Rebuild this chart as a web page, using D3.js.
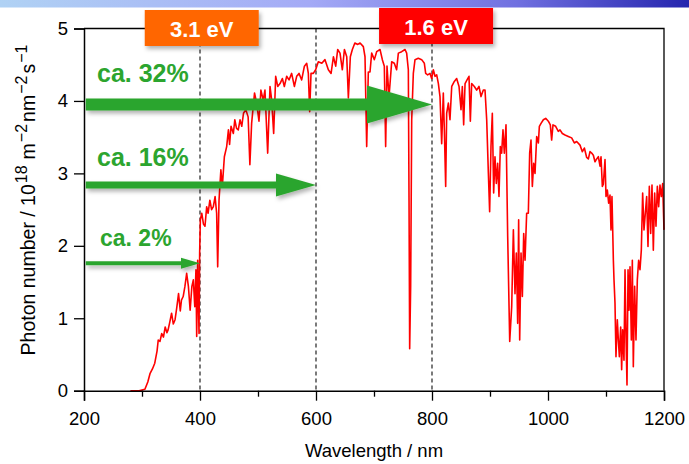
<!DOCTYPE html>
<html><head><meta charset="utf-8">
<script src="https://cdn.jsdelivr.net/npm/d3@7"></script>
<style>body{margin:0;background:#fff}svg{display:block}</style>
</head><body><svg id="c" width="689" height="464"></svg>
<script>
const wavelength = [280,295,305,310,314,318,322,326,328,331,334,337,340,343,345,348,351,354,357,360,363,366,368,371,374,377,380,383,386,388.5,391,393,394.3,396,398.3,399.4,400.6,403,406,408.6,411.5,414,417,420,423,426,428.7,430.5,432.8,436,438.5,442,446,449,451,453.5,457.5,460,463,466,469,472,475,479,483,486,489,494,497.7,501.7,505,509,512,516.7,520.7,523.6,527,530.5,534,538,542,545.4,549.4,553.5,558,562.7,566.7,570.7,575.3,580,584,586.8,589.1,591.4,595.4,599.4,604,610,615.5,621.3,626,630,634,637.4,641.4,645.4,649,653,655.8,659.2,662.7,667,672,676,681.6,684.5,687.4,690.2,693.1,696,700.6,704.6,710.4,714.4,717.8,720.1,722.4,725.9,730.5,735,739,742,747.7,753.5,756.3,759.2,760.4,761.5,763.2,765,767.8,770.7,776.4,782.2,786.8,789.1,792.5,796.6,799.4,802.3,805.2,808.1,811,813.8,816.7,819.5,821.3,823.6,825.3,828.2,831,834,838.5,842.5,846.6,850,852.3,854.6,857,860.4,863.8,866.1,868.4,873,877,881,884.5,888.5,891.4,894.3,897.2,899.4,901.7,904,906.3,908.6,910.9,913.2,915.5,917.8,920.1,922.4,924.7,927.6,930.5,934,937.4,940.3,943.1,945.4,947.7,949.4,951.2,953.5,955.8,958.1,960.4,963.2,966.1,968.4,970.7,973,975.3,977.6,980.5,983.4,985.1,988,992,996,1000.6,1004,1006.3,1008.6,1013.2,1017.8,1020.7,1024.7,1029.3,1035,1040.8,1045.4,1049.4,1055.2,1059.2,1062.7,1066.7,1069.6,1072.4,1075.3,1078.2,1081,1083.9,1086.8,1089.7,1091.4,1093.7,1095.4,1098.3,1100,1102.3,1104.6,1106.9,1108.6,1110.3,1112.7,1113.8,1115.5,1117.2,1119.5,1121.3,1123,1125.3,1127,1128.7,1131,1132.8,1134.5,1136.2,1138,1139.7,1141.4,1143.7,1145.4,1147.1,1149.4,1151.7,1154,1156.3,1158.6,1160.9,1163.2,1165.5,1167.8,1170.1,1172.4,1174.7,1177,1179.3,1181.6,1183.9,1186.2,1188.5,1190.8,1193.1,1195.4,1197.7,1200];
const photonFlux = [0,0,0.02,0.12,0.24,0.30,0.38,0.55,0.70,0.68,0.79,0.74,0.88,0.80,0.84,0.95,1.07,0.92,0.98,1.15,1.34,1.10,1.25,1.30,1.44,1.62,1.44,1.11,1.44,1.53,1.16,1.67,0.75,1.80,0.79,1.90,2.36,2.45,2.30,2.27,2.54,2.45,2.63,2.50,2.54,2.68,2.45,1.71,2.63,3.05,2.82,3.23,3.37,3.60,3.40,3.65,3.55,3.74,3.62,3.60,3.74,3.65,3.83,3.88,3.78,3.12,3.69,4.11,3.97,3.72,4.15,4.01,4.15,3.28,4.20,4.01,3.55,4.34,4.20,4.24,4.31,4.20,4.34,4.29,4.38,4.20,4.34,4.38,4.29,4.48,4.52,4.38,3.85,4.38,4.38,4.43,4.54,4.52,4.57,4.43,4.38,4.61,4.48,4.71,4.66,4.43,4.71,4.61,4.04,4.61,4.71,4.80,4.78,4.80,4.75,4.61,3.37,4.40,4.40,4.66,4.57,4.68,4.71,4.57,4.48,3.37,4.48,4.06,4.54,4.52,4.43,4.66,4.68,4.71,4.66,4.43,2.63,0.58,1.44,3.74,4.38,4.57,4.59,4.57,4.52,4.38,4.36,4.38,4.31,4.43,4.34,4.36,4.24,4.06,3.41,4.11,3.60,2.82,3.83,3.97,3.74,4.20,4.27,4.31,4.20,3.88,4.20,3.67,4.24,4.29,4.34,3.72,4.24,4.20,4.15,4.20,4.06,4.15,4.15,3.74,3.00,2.47,3.37,3.83,2.73,3.23,2.86,3.14,2.68,3.37,3.28,3.60,3.28,3.67,2.13,0.68,1.16,2.22,1.34,1.90,0.93,2.36,0.70,1.90,1.30,2.17,1.80,2.45,2.45,3.28,3.46,2.82,3.14,3.00,3.51,3.42,3.65,3.69,3.74,3.76,3.72,3.67,3.46,3.67,3.65,3.58,3.60,3.55,3.53,3.51,3.49,3.42,3.44,3.39,3.30,3.35,3.22,3.20,3.30,3.28,3.25,3.16,3.20,3.23,3.10,3.23,2.82,2.85,3.19,2.68,2.77,2.59,2.70,2.22,2.68,1.80,1.53,1.21,0.47,0.98,0.70,0.47,0.88,0.29,0.84,0.42,1.67,0.75,0.08,1.67,1.11,1.71,0.70,1.80,0.33,1.44,0.70,1.53,1.80,1.67,1.94,2.73,2.22,2.45,2.68,1.99,2.82,2.17,2.84,1.94,2.73,2.27,2.82,2.54,2.84,2.68,2.86,2.22];

const xTicks = [200,400,600,800,1000,1200];
const xMinorTicks = [300,500,700,900,1100];
const yTicks = [0,1,2,3,4,5];
const markerWavelengths = [400,600,800];
const arrowStart = 203;
const arrowEnds = [400,600,800];
const arrowLevels = [1.76,2.84,3.95];
const arrowLabels = ["ca. 2%","ca. 16%","ca. 32%"];
const labelLevels = [2.0,3.10,4.26];
const energyLabels = ["3.1 eV","1.6 eV"];
const energyCenters = [403,807];

const FONT = '"Liberation Sans", Arial, Helvetica, sans-serif';
const L = 84, R = 664, T = 28.5, B = 390.7;
const svg = d3.select('#c');
const defs = svg.append('defs');

const grad = defs.append('linearGradient').attr('id','topbar').attr('x1','0').attr('x2','1').attr('y1','0').attr('y2','0');
[[0,'#b0d2f4'],[0.45,'#a4aaf6'],[0.75,'#7070e0'],[1,'#2424ae']].forEach(([o,c])=>grad.append('stop').attr('offset',o).attr('stop-color',c));
const sh = defs.append('filter').attr('id','shadow').attr('x','-20%').attr('y','-40%').attr('width','150%').attr('height','200%');
sh.append('feDropShadow').attr('dx',2).attr('dy',3).attr('stdDeviation',2).attr('flood-color','#000').attr('flood-opacity',0.3);

svg.append('rect').attr('x',0).attr('y',0).attr('width',689).attr('height',7.5).attr('fill','url(#topbar)');

const x = d3.scaleLinear().domain([200,1200]).range([L,R]);
const y = d3.scaleLinear().domain([0,5]).range([B,T]);

// dashed markers
svg.append('g').selectAll('line').data(markerWavelengths).join('line')
  .attr('x1',d=>x(d)).attr('x2',d=>x(d)).attr('y1',T).attr('y2',B)
  .attr('stroke','#222').attr('stroke-width',1.2).attr('stroke-dasharray','4,3');

// spectrum
const pts = wavelength.map((w,i)=>[w,photonFlux[i]]);
svg.append('path').datum(pts)
  .attr('d', d3.line().x(d=>x(d[0])).y(d=>y(d[1])))
  .attr('fill','none').attr('stroke','#ff0000').attr('stroke-width',1.6).attr('stroke-linejoin','round');

// frame
svg.append('path').attr('d',`M${L},${T}H${R}V${B}`).attr('fill','none').attr('stroke','#000').attr('stroke-width',1.3);

// axes
svg.append('g').attr('transform',`translate(0,${B})`)
  .call(d3.axisBottom(x).tickValues(xTicks).tickSize(10).tickPadding(11).tickFormat(d3.format('d')));
svg.append('g').attr('transform',`translate(0,${B})`)
  .call(d3.axisBottom(x).tickValues(xMinorTicks).tickSize(6).tickFormat(''))
  .call(g=>g.select('.domain').remove());
svg.append('g').attr('transform',`translate(${L},0)`)
  .call(d3.axisLeft(y).tickValues(yTicks).tickSize(10).tickPadding(6).tickFormat(d3.format('d')));
svg.selectAll('.domain').attr('stroke','#000').attr('stroke-width',1.5);
svg.selectAll('.tick line').attr('stroke','#000').attr('stroke-width',1.3);
svg.selectAll('.tick text').attr('font-family',FONT).attr('font-size',18.5).attr('fill','#000');

// axis titles
svg.append('text').attr('x',374).attr('y',457).attr('text-anchor','middle')
  .attr('font-family',FONT).attr('font-size',18.5).attr('fill','#000').text('Wavelength / nm');
const yt = svg.append('text').attr('transform','translate(35,200) rotate(-90)').attr('text-anchor','middle')
  .attr('font-family',FONT).attr('font-size',19.5).attr('fill','#000');
const parts = [['Photon number / 10',0,0],['18',1,1],['m',0,6],['\u22122',1,1],['nm',0,2],['\u22122',1,1],['s',0,2],['\u22121',1,1]];
parts.forEach(([t,s,gap],i)=>{
  const ts = yt.append('tspan').text(t).attr('dx', gap);
  if (s) ts.attr('font-size',16).attr('dy', -8);
  else if (i>0) ts.attr('dy', 8);
});

// arrows
const arrowDims = [{t:4,hl:19,hh:5.5},{t:7,hl:40,hh:11.5},{t:12,hl:65,hh:19}];
const ag = svg.append('g').attr('filter','url(#shadow)');
arrowEnds.forEach((e,i)=>{
  const x0 = x(arrowStart), x1 = x(e), yc = y(arrowLevels[i]), dm = arrowDims[i];
  const xh = x1 - dm.hl;
  ag.append('path').attr('d',`M${x0},${yc-dm.t/2}H${xh}V${yc-dm.hh}L${x1},${yc}L${xh},${yc+dm.hh}V${yc+dm.t/2}H${x0}Z`)
    .attr('fill','#2ca52f');
});
svg.append('g').selectAll('text').data(arrowLabels).join('text')
  .attr('x',(d,i)=> i===0 ? 100 : 97).attr('y',(d,i)=>y(labelLevels[i]))
  .attr('font-family',FONT).attr('font-weight','bold').attr('font-size',(d,i)=> i===0?23:25)
  .attr('fill','#2ca52f').text(d=>d);

// energy boxes
const boxColors = ['#ff6600','#ff0000'];
const boxTops = [10,8];
const bg = svg.append('g');
energyLabels.forEach((lab,i)=>{
  const cx = x(energyCenters[i]);
  bg.append('rect').attr('x',cx-57).attr('y',boxTops[i]).attr('width',114).attr('height',36)
    .attr('fill',boxColors[i]).attr('filter','url(#shadow)');
  bg.append('text').attr('x',cx).attr('y',boxTops[i]+26.5).attr('text-anchor','middle')
    .attr('font-family',FONT).attr('font-weight','bold').attr('font-size',22).attr('fill','#fff').text(lab);
});
</script></body></html>
